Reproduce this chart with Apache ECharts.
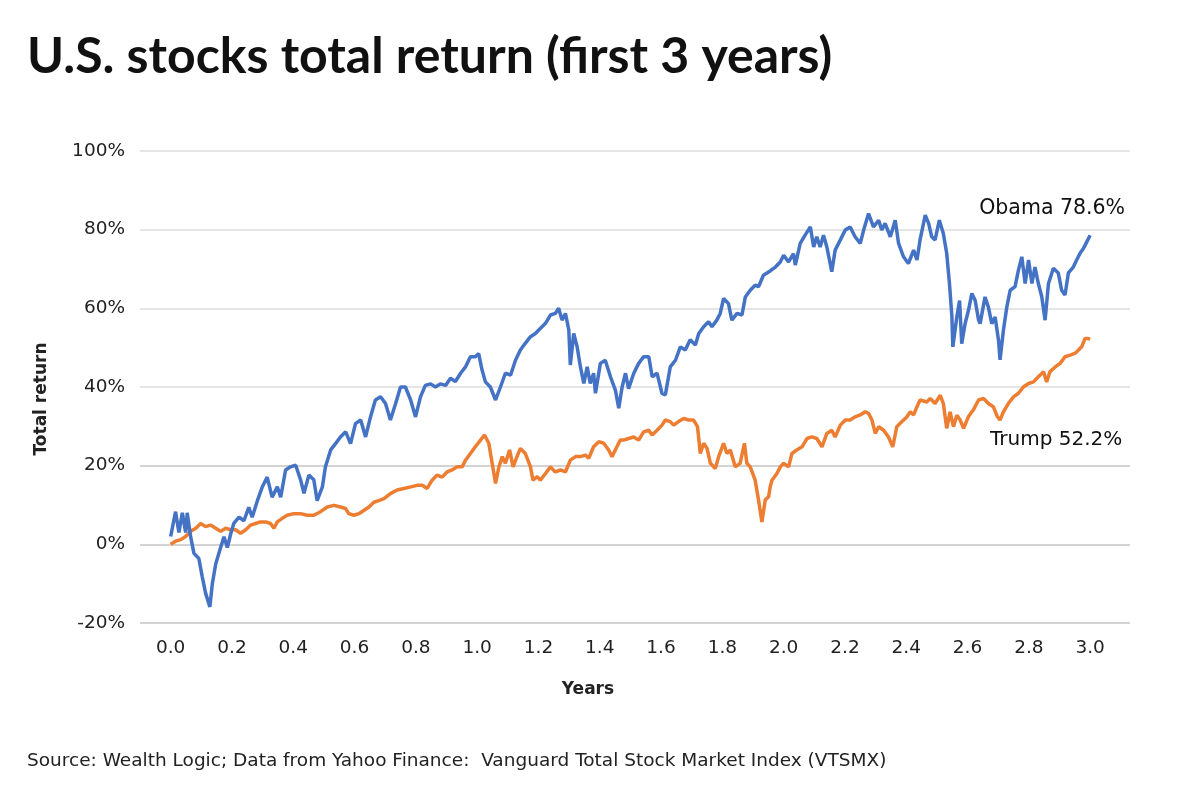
<!DOCTYPE html>
<html><head><meta charset="utf-8">
<script src="https://cdn.jsdelivr.net/npm/echarts@6/dist/echarts.min.js"></script>
<style>html,body{margin:0;padding:0;background:#fff}#c{width:1200px;height:797px}</style>
</head><body><div id="c"></div>
<script>
// Obama: [years since inauguration, total return %]
const obamaYears = [0.000,0.016,0.027,0.038,0.049,0.054,0.065,0.076,0.092,0.103,0.114,0.128,0.136,0.147,0.163,0.174,0.185,0.196,0.206,0.223,0.239,0.255,0.266,0.283,0.299,0.315,0.331,0.348,0.359,0.375,0.391,0.408,0.424,0.435,0.451,0.467,0.478,
0.495,0.505,0.522,0.538,0.554,0.571,0.587,0.603,0.620,0.636,0.652,0.668,0.685,0.701,0.717,0.734,0.750,0.766,0.783,0.799,0.815,0.831,0.848,0.864,0.880,0.897,0.913,0.929,0.946,0.962,0.978,
0.994,1.005,1.016,1.027,1.043,1.060,1.076,1.092,1.109,1.125,1.141,1.157,1.174,1.190,1.206,1.223,1.239,1.255,1.266,1.277,1.288,1.299,1.304,1.315,1.326,1.337,1.348,1.359,1.369,1.380,1.386,1.402,1.418,1.435,1.451,1.462,
1.473,1.484,1.494,1.511,1.527,1.543,1.560,1.571,1.587,1.603,1.614,1.630,1.647,1.663,1.679,1.695,1.712,1.723,1.739,1.755,1.766,1.782,1.793,1.804,1.820,1.831,1.848,1.864,1.875,1.891,1.907,1.918,1.934,1.956,
1.973,1.989,2.000,2.016,2.032,2.038,2.054,2.070,2.087,2.098,2.108,2.119,2.130,2.141,2.157,2.168,2.185,2.201,2.217,2.233,2.250,2.261,2.277,2.293,2.310,2.320,2.331,2.348,2.364,2.375,2.391,2.407,2.424,2.435,2.445,
2.462,2.473,2.483,2.494,2.508,2.521,2.532,2.541,2.549,2.552,2.565,2.574,2.581,2.592,2.603,2.614,2.625,2.636,2.641,2.657,2.668,2.679,2.690,2.701,2.706,2.717,2.728,2.739,2.755,2.766,2.777,2.788,2.799,2.810,2.820,2.831,2.842,2.853,2.864,2.880,2.896,2.907,2.918,2.929,2.945,2.956,2.967,2.978,2.989,3.000];
const obamaReturn = [2.0,8.3,3.0,8.0,3.0,8.0,2.0,-2.3,-3.6,-8.2,-12.4,-15.9,-10.0,-5.0,-0.8,1.9,-0.8,2.7,5.3,6.9,6.0,9.4,6.9,11.1,14.6,17.1,12.0,14.6,12.0,18.9,19.7,20.1,16.4,13.0,17.6,16.4,11.1,
14.6,19.7,24.0,25.6,27.3,28.6,25.6,30.7,31.6,27.3,32.4,36.7,37.5,35.8,31.6,35.8,40.0,40.0,36.7,32.4,37.5,40.4,40.8,40.0,40.8,40.4,42.2,41.4,43.5,45.1,47.7,
47.7,48.5,44.3,41.3,40.0,36.7,40.0,43.5,43.0,46.8,49.4,51.1,52.8,53.6,54.9,56.2,58.3,58.7,60.0,57.0,58.7,54.5,45.6,53.6,50.3,45.1,40.9,45.1,40.9,43.5,38.4,46.0,46.8,42.6,39.2,34.6,
40.0,43.5,39.6,43.5,46.0,47.7,47.7,42.6,43.5,38.4,38.0,45.1,46.8,50.2,49.4,52.0,50.7,53.6,55.3,56.6,55.3,57.0,58.7,62.5,61.2,57.0,58.7,58.3,62.9,64.6,65.9,65.5,68.4,69.5,
70.5,71.8,73.5,71.8,73.9,71.0,76.5,78.6,80.7,75.6,78.2,75.6,78.6,75.6,69.3,74.8,77.4,79.9,80.7,78.2,76.5,79.9,84.1,80.7,82.4,79.9,81.6,78.2,82.4,76.5,73.1,71.4,74.8,72.3,77.4,
83.7,81.6,78.2,77.4,82.4,79.0,74.0,66.3,57.8,50.2,57.8,62.0,51.0,56.1,59.5,63.8,62.0,57.0,56.1,62.9,60.3,56.1,57.8,51.9,46.9,54.4,60.3,64.6,65.5,69.7,73.1,66.3,72.3,66.3,70.5,66.3,63.0,57.0,66.3,70.2,69.0,64.6,63.4,69.0,70.5,72.3,74.0,75.2,76.9,78.6];

// Trump: [years since inauguration, total return %]
const trumpYears = [0.000,0.016,0.033,0.049,0.065,0.082,0.098,0.114,0.130,0.147,0.163,0.179,0.196,0.212,0.228,0.245,0.261,0.277,0.293,0.310,0.326,0.337,0.348,0.364,0.380,0.402,0.424,0.445,0.467,0.489,
0.511,0.533,0.554,0.571,0.581,0.598,0.614,0.630,0.647,0.663,0.679,0.696,0.717,0.739,0.761,0.783,0.804,0.821,0.837,0.853,0.869,0.886,0.902,0.918,0.935,0.951,0.962,0.978,
0.994,1.011,1.024,1.038,1.049,1.060,1.071,1.082,1.092,1.106,1.117,1.130,1.141,1.157,1.174,1.182,1.196,1.206,1.223,1.239,1.255,1.272,1.288,1.304,1.321,1.337,1.353,1.364,1.380,1.397,1.413,1.429,1.440,1.456,1.467,
1.478,1.494,1.511,1.527,1.543,1.560,1.571,1.587,1.603,1.614,1.630,1.641,1.657,1.674,1.690,1.706,1.719,1.728,1.739,1.750,1.761,1.777,1.788,1.804,1.815,1.826,1.842,1.858,1.872,1.880,1.891,1.907,1.918,1.929,1.940,1.951,1.956,
1.962,1.978,1.989,2.000,2.016,2.027,2.043,2.060,2.076,2.092,2.108,2.125,2.141,2.157,2.168,2.185,2.201,2.217,2.233,2.250,2.266,2.277,2.288,2.299,2.310,2.326,2.342,2.356,2.369,2.386,2.402,2.413,2.424,2.435,2.445,
2.451,2.467,2.478,2.494,2.511,2.521,2.532,2.543,2.554,2.565,2.576,2.587,2.603,2.619,2.636,2.652,2.668,2.684,2.697,2.706,2.717,2.733,2.750,2.766,2.782,2.799,2.815,2.831,2.848,2.858,2.869,2.886,2.902,2.918,2.935,2.951,2.962,2.973,2.983,2.994,3.000];
const trumpReturn = [0.0,0.8,1.2,2.0,3.3,4.1,5.3,4.5,4.9,4.1,3.3,4.1,3.7,3.7,2.8,3.7,4.9,5.3,5.7,5.7,5.3,4.1,5.7,6.6,7.4,7.8,7.8,7.4,7.4,8.3,
9.5,9.9,9.5,9.1,7.8,7.4,7.8,8.6,9.5,10.7,11.1,11.6,12.9,13.8,14.2,14.6,15.0,15.0,14.2,16.3,17.6,17.1,18.4,18.9,19.7,19.7,21.4,23.1,
24.8,26.5,27.8,25.7,20.6,15.5,19.7,22.3,20.6,24.0,19.7,22.3,24.4,23.1,19.7,16.3,17.2,16.3,18.0,19.7,18.4,18.9,18.4,21.4,22.3,22.3,22.7,21.9,24.8,26.1,25.7,24.0,22.3,24.8,26.5,
26.5,26.9,27.3,26.5,28.6,29.0,27.8,29.0,30.3,31.6,31.2,30.3,31.2,32.0,31.6,31.6,29.9,23.1,25.7,24.4,20.6,19.3,22.3,25.7,23.1,24.0,19.7,20.6,25.7,20.6,19.7,16.3,11.3,5.7,11.3,12.1,14.6,
16.3,18.0,19.7,20.6,19.7,23.1,24.0,24.8,26.9,27.3,26.9,24.8,28.2,29.0,27.3,30.3,31.6,31.6,32.4,32.9,33.7,33.3,31.6,28.2,29.9,29.0,27.3,24.8,29.9,31.2,32.4,33.7,32.9,35.0,36.7,
36.7,36.2,37.1,35.8,37.9,35.8,29.5,33.7,29.9,32.8,31.6,29.5,32.5,34.2,36.7,37.1,35.8,35.0,32.5,31.6,33.7,35.8,37.5,38.4,40.0,40.9,41.3,42.6,43.9,41.3,43.9,45.1,46.0,47.7,48.1,48.6,49.4,50.3,52.3,52.3,52.2];

const seriesNames = ['Obama', 'Trump'];
const yTicks = [-20, 0, 20, 40, 60, 80, 100];
const xTickLabels = ['0.0','0.2','0.4','0.6','0.8','1.0','1.2','1.4','1.6','1.8','2.0','2.2','2.4','2.6','2.8','3.0'];

const zip = (xs, ys) => xs.map((x, i) => [x, ys[i]]);
const obamaData = zip(obamaYears, obamaReturn);
const trumpData = zip(trumpYears, trumpReturn);
const TFONT = 'Lato, "Noto Sans", sans-serif';
const FONT = '"DejaVu Sans", "Noto Sans", sans-serif';

const chart = echarts.init(document.getElementById('c'), null, {renderer: 'canvas'});
chart.setOption({
  animation: false,
  backgroundColor: '#ffffff',
  title: {
    text: 'U.S. stocks total return (first 3 years)',
    left: 22, top: 27,
    textStyle: {fontFamily: TFONT, fontWeight: 'bold', fontSize: 50, color: '#111'}
  },
  graphic: [{
    type: 'text', left: 27, top: 752,
    style: {text: 'Source: Wealth Logic; Data from Yahoo Finance:  Vanguard Total Stock Market Index (VTSMX)',
      font: '18.5px ' + FONT, fill: '#222'}
  }],
  grid: {left: 140, right: 70, top: 151, bottom: 174, containLabel: false},
  xAxis: {
    type: 'value', min: -0.1, max: 3.13, interval: 0.1,
    name: 'Years', nameLocation: 'middle', nameGap: 58,
    nameTextStyle: {fontFamily: FONT, fontSize: 17, fontWeight: 'bold', color: '#222', padding: [0, 94, 0, 0]},
    axisLine: {show: false}, axisTick: {show: false}, splitLine: {show: false},
    axisLabel: {
      fontFamily: FONT, fontSize: 18.5, color: '#222', margin: 16, showMinLabel: false, showMaxLabel: false,
      formatter: v => {
        const r = Math.round(v * 10);
        if (r < 0 || r > 30 || r % 2) return '';
        return xTickLabels[r / 2];
      }
    }
  },
  yAxis: {
    type: 'value', min: yTicks[0], max: yTicks[yTicks.length - 1], interval: 20,
    name: 'Total return', nameLocation: 'middle', nameGap: 90, nameRotate: 90,
    nameTextStyle: {fontFamily: FONT, fontSize: 17, fontWeight: 'bold', color: '#222', padding: [0, 24, 0, 0]},
    axisLine: {show: false}, axisTick: {show: false},
    axisLabel: {fontFamily: FONT, fontSize: 18.5, color: '#222', margin: 15, formatter: v => v + '%'},
    splitLine: {lineStyle: {color: ['#c4c4c4','#c4c4c4','#c4c4c4','#dddddd','#dddddd','#dddddd','#dddddd'], width: 1.5}}
  },
  series: [
    {
      name: seriesNames[0], type: 'line', data: obamaData, showSymbol: false, symbol: 'none',
      lineStyle: {color: '#4472C4', width: 3.5}, z: 3,
      markPoint: {
        symbol: 'circle', symbolSize: 0,
        data: [{coord: obamaData[obamaData.length - 1]}],
        label: {show: true, formatter: seriesNames[0] + ' ' + obamaReturn[obamaReturn.length - 1].toFixed(1) + '%',
          offset: [-38, -27], fontFamily: FONT, fontSize: 20.5, color: '#111'}
      }
    },
    {
      name: seriesNames[1], type: 'line', data: trumpData, showSymbol: false, symbol: 'none',
      lineStyle: {color: '#ED7D31', width: 3.5}, z: 2,
      markPoint: {
        symbol: 'circle', symbolSize: 0,
        data: [{coord: trumpData[trumpData.length - 1]}],
        label: {show: true, formatter: seriesNames[1] + ' ' + trumpReturn[trumpReturn.length - 1].toFixed(1) + '%',
          offset: [-34, 101], fontFamily: FONT, fontSize: 20, color: '#111'}
      }
    }
  ]
});
</script></body></html>
